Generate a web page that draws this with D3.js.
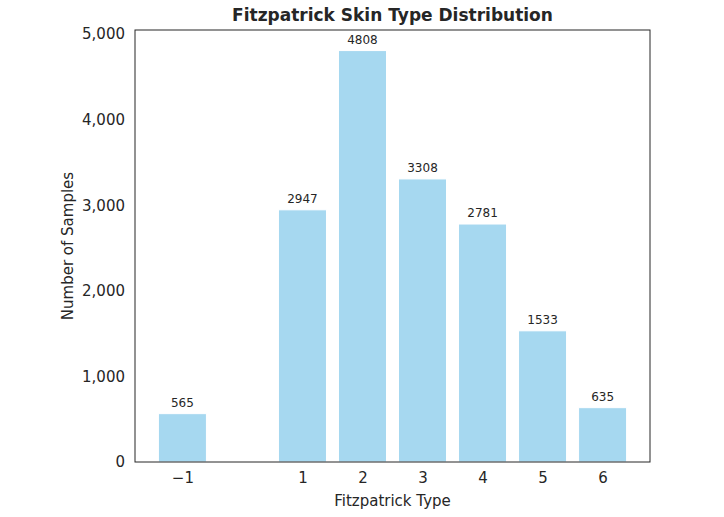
<!DOCTYPE html>
<html><head><meta charset="utf-8">
<script src="https://cdn.jsdelivr.net/npm/d3@7"></script>
<style>body{margin:0;background:#fff;font-family:"DejaVu Sans",sans-serif;}</style>
</head><body><div id="chart"></div>
<script>
var types = [-1, 1, 2, 3, 4, 5, 6];
var counts = [565, 2947, 4808, 3308, 2781, 1533, 635];
var yTicks = [0, 1000, 2000, 3000, 4000, 5000];

var margin = {top: 30, right: 74, bottom: 55, left: 135},
    width = 724 - margin.left - margin.right,
    height = 517 - margin.top - margin.bottom;

var svg = d3.select("#chart").append("svg")
    .attr("width", 724).attr("height", 517)
    .append("g")
    .attr("transform", "translate(" + margin.left + "," + margin.top + ")");

var x = d3.scaleLinear().domain([-1.79, 6.79]).range([0, width]);
var y = d3.scaleLinear().domain([0, 4808 * 1.05]).range([height, 0]);
var bw = x(0.8) - x(0);

svg.selectAll("rect.bar").data(types).enter().append("rect")
    .attr("x", function(d) { return x(d - 0.4); })
    .attr("y", function(d, i) { return y(counts[i]); })
    .attr("width", bw)
    .attr("height", function(d, i) { return height - y(counts[i]); })
    .style("fill", "#a6d8f0")
    .style("stroke", "#fff")
    .style("stroke-width", 1);

svg.selectAll("text.lbl").data(types).enter().append("text")
    .attr("x", function(d) { return x(d); })
    .attr("y", function(d, i) { return y(counts[i]) - 7; })
    .attr("text-anchor", "middle")
    .style("font-size", "12px").style("fill", "#262626")
    .text(function(d, i) { return counts[i]; });

var xa = svg.append("g").attr("transform", "translate(0," + height + ")")
    .call(d3.axisBottom(x).tickValues(types).tickSize(0).tickPadding(10)
        .tickFormat(function(d) { return d < 0 ? "\u2212" + Math.abs(d) : d; }));
var ya = svg.append("g")
    .call(d3.axisLeft(y).tickValues(yTicks).tickSize(0).tickPadding(10));
[xa, ya].forEach(function(a) {
    a.select(".domain").remove();
    a.selectAll("text").style("font-size", "15px").style("fill", "#262626")
        .style("font-family", "DejaVu Sans");
});

svg.append("rect").attr("width", width).attr("height", height)
    .style("fill", "none").style("stroke", "#262626").style("stroke-width", 1);

svg.append("text").attr("x", width / 2).attr("y", -9)
    .attr("text-anchor", "middle").style("font-size", "17px")
    .style("font-weight", "bold").style("fill", "#262626")
    .text("Fitzpatrick Skin Type Distribution");
svg.append("text").attr("x", width / 2).attr("y", height + 44)
    .attr("text-anchor", "middle").style("font-size", "15px").style("fill", "#262626")
    .text("Fitzpatrick Type");
svg.append("text").attr("transform", "rotate(-90)")
    .attr("x", -height / 2).attr("y", -62)
    .attr("text-anchor", "middle").style("font-size", "15px").style("fill", "#262626")
    .text("Number of Samples");
</script></body></html>
